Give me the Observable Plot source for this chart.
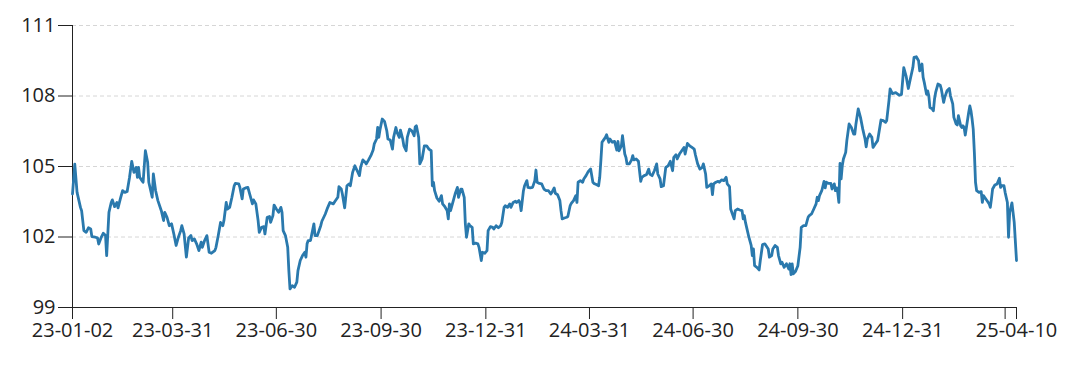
<!DOCTYPE html>
<html><head><meta charset="utf-8">
<script src="https://cdn.jsdelivr.net/npm/d3@7"></script>
<script src="https://cdn.jsdelivr.net/npm/@observablehq/plot@0.6"></script>
<style>body{margin:0;background:#fff}</style>
</head><body><div id="chart"></div>
<script>
const dates = [
"2023-01-02","2023-01-04","2023-01-06","2023-01-09","2023-01-10","2023-01-12","2023-01-14","2023-01-16","2023-01-18","2023-01-19",
"2023-01-22","2023-01-24","2023-01-25","2023-01-27","2023-01-29","2023-01-31","2023-02-01","2023-02-03","2023-02-05","2023-02-06",
"2023-02-08","2023-02-10","2023-02-11","2023-02-13","2023-02-15","2023-02-17","2023-02-19","2023-02-21","2023-02-23","2023-02-25",
"2023-02-27","2023-02-28","2023-03-01","2023-03-02","2023-03-04","2023-03-05","2023-03-07","2023-03-09","2023-03-10","2023-03-13",
"2023-03-14","2023-03-16","2023-03-18","2023-03-21","2023-03-23","2023-03-24","2023-03-26","2023-03-28","2023-03-30","2023-04-01",
"2023-04-03","2023-04-05","2023-04-07","2023-04-08","2023-04-10","2023-04-12","2023-04-14","2023-04-16","2023-04-17","2023-04-19",
"2023-04-21","2023-04-23","2023-04-25","2023-04-26","2023-04-28","2023-04-30","2023-05-02","2023-05-04","2023-05-07","2023-05-08",
"2023-05-10","2023-05-12","2023-05-14","2023-05-15","2023-05-17","2023-05-18","2023-05-20","2023-05-22","2023-05-24","2023-05-25",
"2023-05-28","2023-05-29","2023-05-31","2023-06-01","2023-06-03","2023-06-05","2023-06-07","2023-06-09","2023-06-10","2023-06-12",
"2023-06-14","2023-06-15","2023-06-17","2023-06-19","2023-06-20","2023-06-22","2023-06-24","2023-06-25","2023-06-27","2023-06-28",
"2023-06-30","2023-07-02","2023-07-04","2023-07-05","2023-07-06","2023-07-08","2023-07-10","2023-07-11","2023-07-12","2023-07-14",
"2023-07-16","2023-07-18","2023-07-19","2023-07-21","2023-07-23","2023-07-25","2023-07-26","2023-07-27","2023-07-28","2023-07-30",
"2023-08-02","2023-08-03","2023-08-05","2023-08-08","2023-08-09","2023-08-12","2023-08-14","2023-08-16","2023-08-19","2023-08-21",
"2023-08-23","2023-08-24","2023-08-26","2023-08-27","2023-08-29","2023-08-31","2023-09-02","2023-09-03","2023-09-05","2023-09-07",
"2023-09-09","2023-09-11","2023-09-12","2023-09-14","2023-09-16","2023-09-17","2023-09-19","2023-09-21","2023-09-23","2023-09-24",
"2023-09-26","2023-09-27","2023-09-28","2023-09-29","2023-10-01","2023-10-03","2023-10-05","2023-10-06","2023-10-08","2023-10-10",
"2023-10-11","2023-10-13","2023-10-14","2023-10-16","2023-10-17","2023-10-19","2023-10-20","2023-10-22","2023-10-23","2023-10-25",
"2023-10-27","2023-10-29","2023-10-30","2023-10-31","2023-11-02","2023-11-03","2023-11-05","2023-11-07","2023-11-09","2023-11-11",
"2023-11-13","2023-11-14","2023-11-15","2023-11-16","2023-11-18","2023-11-20","2023-11-22","2023-11-23","2023-11-25","2023-11-27",
"2023-11-28","2023-11-29","2023-11-30","2023-12-02","2023-12-04","2023-12-06","2023-12-07","2023-12-09","2023-12-10","2023-12-12",
"2023-12-13","2023-12-14","2023-12-16","2023-12-17","2023-12-19","2023-12-20","2023-12-22","2023-12-24","2023-12-25","2023-12-27",
"2023-12-28","2023-12-30","2024-01-01","2024-01-02","2024-01-04","2024-01-06","2024-01-07","2024-01-09","2024-01-11","2024-01-13",
"2024-01-14","2024-01-16","2024-01-17","2024-01-19","2024-01-21","2024-01-22","2024-01-24","2024-01-26","2024-01-27","2024-01-29",
"2024-01-30","2024-01-31","2024-02-02","2024-02-03","2024-02-05","2024-02-06","2024-02-08","2024-02-10","2024-02-12","2024-02-13",
"2024-02-14","2024-02-16","2024-02-18","2024-02-20","2024-02-22","2024-02-24","2024-02-26","2024-02-27","2024-02-29","2024-03-01",
"2024-03-03","2024-03-05","2024-03-06","2024-03-07","2024-03-09","2024-03-11","2024-03-12","2024-03-14","2024-03-15","2024-03-17",
"2024-03-19","2024-03-20","2024-03-21","2024-03-23","2024-03-25","2024-03-26","2024-03-28","2024-03-30","2024-04-01","2024-04-03",
"2024-04-04","2024-04-06","2024-04-08","2024-04-09","2024-04-10","2024-04-11","2024-04-12","2024-04-14","2024-04-15","2024-04-17",
"2024-04-18","2024-04-20","2024-04-22","2024-04-24","2024-04-25","2024-04-26","2024-04-28","2024-04-29","2024-05-01","2024-05-02",
"2024-05-03","2024-05-05","2024-05-07","2024-05-08","2024-05-09","2024-05-11","2024-05-13","2024-05-15","2024-05-16","2024-05-18",
"2024-05-20","2024-05-22","2024-05-23","2024-05-25","2024-05-27","2024-05-29","2024-05-30","2024-06-01","2024-06-02","2024-06-04",
"2024-06-06","2024-06-08","2024-06-10","2024-06-12","2024-06-13","2024-06-15","2024-06-16","2024-06-18","2024-06-20","2024-06-22",
"2024-06-23","2024-06-25","2024-06-27","2024-06-29","2024-07-01","2024-07-02","2024-07-04","2024-07-06","2024-07-08","2024-07-09",
"2024-07-11","2024-07-12","2024-07-14","2024-07-16","2024-07-17","2024-07-18","2024-07-20","2024-07-22","2024-07-23","2024-07-25",
"2024-07-27","2024-07-29","2024-07-30","2024-08-01","2024-08-02","2024-08-04","2024-08-05","2024-08-06","2024-08-08","2024-08-10",
"2024-08-12","2024-08-13","2024-08-14","2024-08-15","2024-08-16","2024-08-18","2024-08-20","2024-08-21","2024-08-22","2024-08-23",
"2024-08-25","2024-08-27","2024-08-28","2024-08-30","2024-09-01","2024-09-02","2024-09-04","2024-09-05","2024-09-07","2024-09-08",
"2024-09-10","2024-09-12","2024-09-13","2024-09-15","2024-09-16","2024-09-18","2024-09-20","2024-09-22","2024-09-23","2024-09-24",
"2024-09-25","2024-09-26","2024-09-28","2024-09-30","2024-10-02","2024-10-03","2024-10-05","2024-10-07","2024-10-09","2024-10-10",
"2024-10-12","2024-10-14","2024-10-16","2024-10-17","2024-10-18","2024-10-19","2024-10-21","2024-10-23","2024-10-24","2024-10-25",
"2024-10-27","2024-10-29","2024-10-30","2024-11-01","2024-11-02","2024-11-03","2024-11-04","2024-11-05","2024-11-06","2024-11-07",
"2024-11-08","2024-11-09","2024-11-11","2024-11-12","2024-11-14","2024-11-16","2024-11-18","2024-11-19","2024-11-20","2024-11-22",
"2024-11-24","2024-11-26","2024-11-28","2024-11-29","2024-11-30","2024-12-02","2024-12-04","2024-12-05","2024-12-07","2024-12-09",
"2024-12-10","2024-12-12","2024-12-14","2024-12-16","2024-12-17","2024-12-19","2024-12-20","2024-12-22","2024-12-25","2024-12-27",
"2024-12-28","2024-12-30","2025-01-01","2025-01-03","2025-01-05","2025-01-07","2025-01-09","2025-01-10","2025-01-12","2025-01-14",
"2025-01-15","2025-01-17","2025-01-18","2025-01-19","2025-01-21","2025-01-22","2025-01-23","2025-01-24","2025-01-26","2025-01-27",
"2025-01-28","2025-01-29","2025-01-31","2025-02-02","2025-02-03","2025-02-05","2025-02-06","2025-02-08","2025-02-10","2025-02-11",
"2025-02-13","2025-02-14","2025-02-16","2025-02-17","2025-02-18","2025-02-20","2025-02-21","2025-02-22","2025-02-23","2025-02-24",
"2025-02-25","2025-02-27","2025-02-28","2025-03-01","2025-03-02","2025-03-03","2025-03-04","2025-03-05","2025-03-06","2025-03-08",
"2025-03-10","2025-03-11","2025-03-12","2025-03-13","2025-03-15","2025-03-17","2025-03-18","2025-03-19","2025-03-20","2025-03-22",
"2025-03-24","2025-03-26","2025-03-27","2025-03-28","2025-03-30","2025-03-31","2025-04-02","2025-04-03","2025-04-04","2025-04-06",
"2025-04-08","2025-04-10"
];
const values = [
103.83,105.1,103.9,103.26,103.12,102.27,102.2,102.39,102.34,102.02,
101.99,101.96,101.7,101.96,102.16,102.06,101.21,103.05,103.47,103.58,
103.29,103.47,103.24,103.62,103.97,103.9,103.94,104.51,105.22,104.75,
104.96,104.54,104.96,104.54,104.4,104.33,105.67,105.18,104.33,103.69,
104.68,103.97,103.55,103.12,102.7,103.05,102.84,102.48,102.56,102.13,
101.64,101.99,102.27,102.48,102.13,101.14,101.96,102.06,101.85,101.92,
101.71,101.42,101.78,101.56,101.85,102.06,101.35,101.31,101.42,101.56,
102.06,102.62,102.48,102.7,103.47,103.19,103.26,103.69,104.18,104.28,
104.26,104.11,103.62,104.04,104.09,104.11,103.76,103.41,103.58,103.41,
102.7,102.2,102.41,102.44,102.13,102.84,102.87,102.62,102.91,103.36,
103.19,103.05,103.26,103.05,102.27,102.06,101.56,100.57,99.79,99.93,
99.86,100.08,100.57,101.0,101.21,101.35,101.14,101.71,101.85,101.85,
102.56,102.06,102.06,102.48,102.67,102.98,103.24,103.47,103.41,103.55,
103.69,104.14,104.04,103.83,103.24,104.18,104.26,104.18,104.75,105.03,
104.82,104.61,104.96,105.28,105.18,105.11,105.28,105.46,105.70,105.96,
106.17,106.66,106.24,106.55,107.02,106.92,106.52,106.17,106.13,105.74,
106.24,106.66,106.45,106.24,106.55,106.17,105.88,105.67,106.24,106.59,
106.52,106.31,106.69,106.73,106.24,105.11,105.32,105.88,105.88,105.74,
105.67,104.18,104.33,103.97,103.66,103.52,103.76,103.41,103.29,103.12,
102.77,103.41,103.12,103.47,103.83,104.11,103.69,104.04,104.04,103.69,
102.56,101.99,102.56,102.48,102.41,101.71,101.74,101.71,101.56,101.0,
101.35,101.31,101.42,102.27,102.44,102.41,102.34,102.48,102.39,102.48,
102.62,103.26,103.33,103.26,103.41,103.26,103.47,103.52,103.47,103.55,
103.43,103.12,103.97,104.18,104.40,104.11,104.09,104.11,104.40,104.85,
104.33,104.28,104.26,104.04,103.97,103.97,103.83,103.90,104.09,103.86,
103.80,103.55,103.12,102.77,102.81,102.84,102.87,103.33,103.43,103.55,
103.76,103.47,104.33,104.40,104.33,104.47,104.61,104.79,104.89,104.33,
104.28,104.23,104.18,104.54,105.25,106.03,106.10,106.24,106.35,106.03,
106.17,106.03,106.07,105.70,106.07,105.67,105.88,106.31,105.53,105.39,
105.11,105.11,105.28,105.46,105.28,105.32,105.22,104.37,104.54,104.61,
104.65,104.89,104.68,104.61,104.82,105.11,104.68,104.47,104.14,104.18,
104.96,105.03,105.22,104.82,105.39,105.50,105.32,105.53,105.67,105.81,
105.53,105.98,105.88,105.81,105.74,105.50,105.11,104.89,104.96,105.11,
104.68,104.11,104.18,104.26,103.80,104.26,104.33,104.37,104.33,104.43,
104.40,104.54,104.26,104.14,103.19,102.91,102.77,103.12,103.19,103.15,
103.12,102.77,102.91,102.62,102.41,101.99,101.64,101.21,101.49,100.78,
100.71,100.60,101.0,101.68,101.71,101.64,101.49,101.14,101.21,101.49,
101.64,101.56,101.21,100.86,100.93,100.71,100.86,100.64,100.86,100.40,
100.86,100.43,100.54,100.78,101.56,102.41,102.48,102.48,102.84,102.91,
102.98,103.19,103.41,103.69,103.55,103.76,103.97,104.37,104.09,104.33,
104.28,104.28,104.04,104.26,103.97,104.09,103.90,103.47,105.13,104.47,
105.03,105.32,105.60,106.10,106.81,106.66,106.38,106.38,106.81,107.45,
107.09,106.59,106.17,105.84,106.17,106.38,106.24,105.81,105.96,106.10,
106.38,106.98,106.95,106.88,106.95,107.80,108.3,108.1,108.14,108.07,
108.03,108.07,109.21,108.86,108.32,108.78,109.21,109.64,109.67,109.50,
109.07,109.36,108.79,108.58,108.07,108.22,108.01,107.51,107.45,107.37,
107.87,108.15,108.51,108.46,108.29,107.73,107.94,108.22,108.32,108.01,
107.66,107.09,106.81,106.77,107.16,106.73,106.66,106.73,106.66,106.34,
106.66,107.30,107.58,107.37,107.02,106.59,105.60,104.33,103.97,103.90,
103.93,103.47,103.76,103.69,103.55,103.41,103.26,103.62,104.04,104.21,
104.26,104.50,104.11,104.18,104.18,103.90,103.47,101.99,103.05,103.45,
102.62,101.0
];
const yTicks = [99, 102, 105, 108, 111];
const xTickDates = ["2023-01-02","2023-03-31","2023-06-30","2023-09-30","2023-12-31","2024-03-31","2024-06-30","2024-09-30","2024-12-31","2025-03-31","2025-04-10"];
const xTickLabels = ["23-01-02","23-03-31","23-06-30","23-09-30","23-12-31","24-03-31","24-06-30","24-09-30","24-12-31","","25-04-10"];

const parse = d3.utcParse("%Y-%m-%d");
const data = dates.map((d, i) => ({date: parse(d), value: values[i]}));
const xt = xTickDates.map(parse);
const labelOf = new Map(xt.map((d, i) => [+d, xTickLabels[i]]));

const chart = Plot.plot({
  width: 1080,
  height: 386,
  marginLeft: 72,
  marginRight: 64,
  marginTop: 25,
  marginBottom: 79,
  style: {fontFamily: "'Open Sans', sans-serif", fontSize: "20px", color: "#222", background: "#fff"},
  x: {type: "utc", domain: [xt[0], xt[xt.length - 1]]},
  y: {domain: [99, 111]},
  marks: [
    Plot.ruleY(yTicks.slice(1), {stroke: "#d6d6d6", strokeDasharray: "4,3"}),
    Plot.axisX({ticks: xt, tickFormat: d => labelOf.get(+d), tickSize: 12, tickPadding: 3, label: null}),
    Plot.axisY({ticks: yTicks, tickSize: 14, tickPadding: 3, label: null}),
    Plot.ruleY([99], {stroke: "#222"}),
    Plot.ruleX([xt[0]], {stroke: "#222"}),
    Plot.line(data, {x: "date", y: "value", stroke: "#2a79ad", strokeWidth: 2.8})
  ]
});
document.getElementById("chart").appendChild(chart);
</script>
</body></html>
